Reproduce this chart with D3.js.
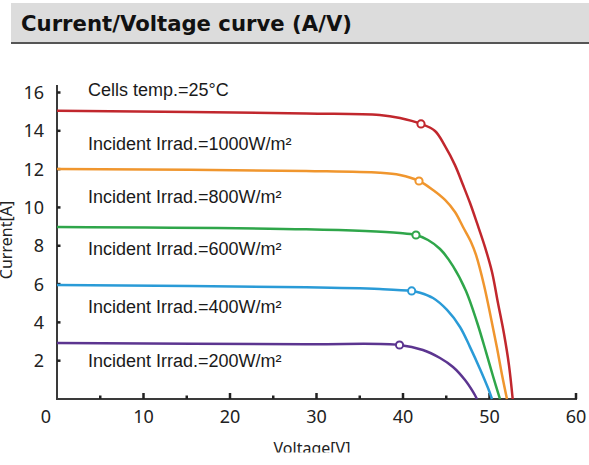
<!DOCTYPE html>
<html>
<head>
<meta charset="utf-8">
<script src="https://cdn.jsdelivr.net/npm/d3@7"></script>
<style>
  body { margin: 0; background: #fff; }
  svg { display: block; }
</style>
</head>
<body>
<svg id="chart" width="589" height="465"></svg>
<script>
// I-V curves at 25°C, voltage [V] vs current [A]
var irradLabels = ['1000', '800', '600', '400', '200'];
var curveColors = ['#c1272d', '#f0962e', '#2fa64a', '#2a9bd7', '#5c3590'];

var volt1000 = [0, 28.8, 37.3, 39.65, 42.08, 43.7, 44.86, 46.01, 46.94, 47.75, 48.55, 49.48, 50.29, 50.98, 51.68, 52.25, 52.68];
var amp1000  = [15.05, 14.91, 14.83, 14.67, 14.36, 13.99, 13.2, 12.21, 11.17, 10.23, 9.19, 7.93, 6.63, 5.01, 3.39, 1.77, 0];

var volt800 = [0, 28.8, 37.3, 39.65, 41.85, 43.47, 44.86, 46.01, 46.94, 47.86, 48.44, 49.36, 50.17, 50.87, 51.45, 52.02];
var amp800  = [12.01, 11.9, 11.81, 11.69, 11.38, 10.91, 10.39, 9.76, 8.98, 8.2, 7.52, 5.95, 4.23, 2.66, 1.25, 0];

var volt600 = [0, 28.8, 39.65, 41.5, 42.89, 44.28, 45.78, 47.28, 48.55, 49.6, 50.4, 51.21];
var amp600  = [8.98, 8.86, 8.67, 8.56, 8.3, 7.83, 6.94, 5.64, 4.02, 2.45, 1.2, 0];

var volt400 = [0, 28.8, 37.3, 41.0, 41.97, 43.47, 45.09, 46.59, 47.75, 48.9, 49.83, 50.29];
var amp400  = [5.95, 5.83, 5.74, 5.64, 5.55, 5.27, 4.65, 3.76, 2.71, 1.57, 0.57, 0];

var volt200 = [0, 28.8, 39.6, 42.3, 44.28, 45.78, 47.17, 48.1, 48.55];
var amp200  = [2.92, 2.86, 2.82, 2.56, 2.14, 1.67, 0.99, 0.37, 0];

// maximum power points (circle markers)
var mppVolt = [42.08, 41.85, 41.5, 41.0, 39.6];
var mppAmp  = [14.36, 11.38, 8.56, 5.64, 2.82];

var xTicks = [0, 10, 20, 30, 40, 50, 60];
var xMinorTicks = [5, 15, 25, 35, 45];
var yTicks = [2, 4, 6, 8, 10, 12, 14, 16];

var svg = d3.select('#chart');

// Title bar
svg.append('rect')
  .attr('x', 11).attr('y', 3)
  .attr('width', 578).attr('height', 40)
  .attr('fill', '#dcdcdc');
svg.append('line')
  .attr('x1', 11).attr('x2', 589)
  .attr('y1', 43).attr('y2', 43)
  .attr('stroke', '#555').attr('stroke-width', 2);
svg.append('text')
  .text('Current/Voltage curve (A/V)')
  .attr('x', 21).attr('y', 31)
  .attr('textLength', 331)
  .attr('lengthAdjust', 'spacingAndGlyphs')
  .style('font-family', 'DejaVu Sans')
  .style('font-weight', 'bold')
  .style('font-size', '20.5px')
  .style('fill', '#111');

// Scales
var x = d3.scaleLinear().domain([0, 60]).range([57, 576]);
var y = d3.scaleLinear().domain([0, 16]).range([399, 92.5]);

var axisColor = '#3a3a3a';
var tickFont = 'Noto Sans';

// Axis lines
svg.append('line')
  .attr('x1', x(0)).attr('x2', x(0))
  .attr('y1', 85).attr('y2', y(0) + 1)
  .attr('stroke', axisColor).attr('stroke-width', 2);
svg.append('line')
  .attr('x1', x(0) - 1).attr('x2', x(60) + 1)
  .attr('y1', y(0)).attr('y2', y(0))
  .attr('stroke', axisColor).attr('stroke-width', 2);

// X ticks (pointing up into the plot)
svg.selectAll('.xmajor').data(xTicks.slice(1)).enter().append('line')
  .attr('x1', d => x(d)).attr('x2', d => x(d))
  .attr('y1', y(0)).attr('y2', y(0) - 6)
  .attr('stroke', '#222').attr('stroke-width', 2.5);
svg.selectAll('.xminor').data(xMinorTicks).enter().append('line')
  .attr('x1', d => x(d)).attr('x2', d => x(d))
  .attr('y1', y(0)).attr('y2', y(0) - 3.5)
  .attr('stroke', '#222').attr('stroke-width', 2.5);

svg.selectAll('.xlab').data(xTicks).enter().append('text')
  .text(d => d)
  .attr('x', d => d === 0 ? x(d) - 11 : x(d))
  .attr('y', 423)
  .attr('text-anchor', 'middle')
  .style('font-family', tickFont)
  .style('font-size', '18px')
  .style('fill', '#222');

// Y ticks
svg.selectAll('.ytick').data(yTicks).enter().append('line')
  .attr('x1', x(0)).attr('x2', x(0) + 3.5)
  .attr('y1', d => y(d)).attr('y2', d => y(d))
  .attr('stroke', '#222').attr('stroke-width', 2.5);

svg.selectAll('.ylab').data(yTicks).enter().append('text')
  .text(d => d)
  .attr('x', 44)
  .attr('y', d => y(d) + 6.5)
  .attr('text-anchor', 'end')
  .style('font-family', tickFont)
  .style('font-size', '18px')
  .style('fill', '#222');

// Axis titles
svg.append('text')
  .text('Current[A]')
  .attr('transform', 'translate(12,240) rotate(-90)')
  .attr('text-anchor', 'middle')
  .style('font-family', tickFont)
  .style('font-size', '16px')
  .style('fill', '#222');

svg.append('clipPath').attr('id', 'bottomclip')
  .append('rect').attr('x', 0).attr('y', 0).attr('width', 589).attr('height', 452.5);
svg.append('text')
  .text('Voltage[V]')
  .attr('x', 312).attr('y', 454)
  .attr('text-anchor', 'middle')
  .attr('clip-path', 'url(#bottomclip)')
  .style('font-family', tickFont)
  .style('font-size', '16px')
  .style('fill', '#222');

// Curves
var volts = [volt1000, volt800, volt600, volt400, volt200];
var amps = [amp1000, amp800, amp600, amp400, amp200];

var line = d3.line()
  .x(d => x(d[0]))
  .y(d => y(d[1]))
  .curve(d3.curveCatmullRom.alpha(0.5));

volts.forEach(function (vs, i) {
  var pts = vs.map((v, j) => [v, amps[i][j]]);
  svg.append('path')
    .attr('d', line(pts))
    .attr('fill', 'none')
    .attr('stroke', curveColors[i])
    .attr('stroke-width', 2.5);
});

svg.selectAll('.mpp').data(mppVolt).enter().append('circle')
  .attr('cx', (d) => x(d))
  .attr('cy', (d, i) => y(mppAmp[i]))
  .attr('r', 3.6)
  .attr('fill', '#fff')
  .attr('stroke', (d, i) => curveColors[i])
  .attr('stroke-width', 2);

// Annotations
var annFont = 'Liberation Sans';
svg.append('text')
  .text('Cells temp.=25°C')
  .attr('x', 88).attr('y', 96)
  .style('font-family', annFont)
  .style('font-size', '18px')
  .style('fill', '#1a1a1a');

var annY = [149.5, 203, 255, 313, 366.5];
svg.selectAll('.ann').data(irradLabels).enter().append('text')
  .text(d => 'Incident Irrad.=' + d + 'W/m²')
  .attr('x', 88)
  .attr('y', (d, i) => annY[i])
  .style('font-family', annFont)
  .style('font-size', '18px')
  .style('fill', '#1a1a1a');
</script>
</body>
</html>
